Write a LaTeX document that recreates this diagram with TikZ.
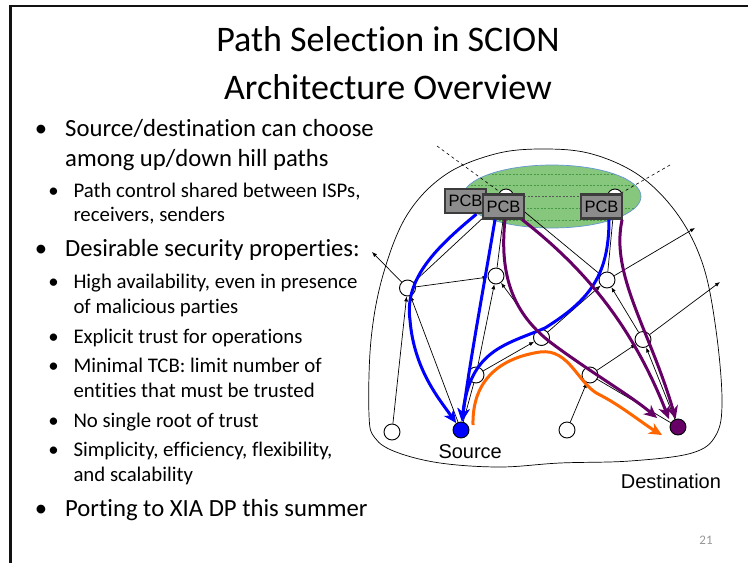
\documentclass[tikz,border=0pt]{standalone}
\usepackage{fontspec}
\setmainfont{Carlito}[Ligatures={NoCommon,NoContextual}]
\newfontfamily\arialf{Liberation Sans}
\usetikzlibrary{arrows.meta}
\definecolor{pblue}{RGB}{0,0,255}
\definecolor{ppurple}{RGB}{102,0,102}
\definecolor{porange}{RGB}{255,102,0}
\definecolor{egreen}{RGB}{135,198,125}
\definecolor{dgreen}{RGB}{70,155,70}
\definecolor{pcbfill}{RGB}{140,140,140}
\definecolor{pcbdraw}{RGB}{60,60,60}
\definecolor{eblue}{RGB}{100,150,210}
\definecolor{pgnum}{RGB}{150,150,150}
\begin{document}
\begin{tikzpicture}[x=1pt,y=-1pt,
  titlef/.style={anchor=base, inner sep=0pt, font=\fontsize{36}{40}\selectfont},
  lone/.style={anchor=base west, inner sep=0pt, font=\fontsize{24.7}{29}\selectfont},
  ltwo/.style={anchor=base west, inner sep=0pt, font=\fontsize{20.8}{25}\selectfont},
  bone/.style={anchor=base, inner sep=0pt, font=\fontsize{24.7}{29}\selectfont},
  btwo/.style={anchor=base, inner sep=0pt, font=\fontsize{20.8}{25}\selectfont},
  rt/.style={circle, draw, line width=0.9pt, fill=white, minimum size=16pt, inner sep=0pt},
  pcb/.style={rectangle, draw=pcbdraw, fill=pcbfill, line width=2.2pt, minimum width=41pt, minimum height=24pt, inner sep=0pt, font=\arialf\fontsize{16.5}{16.5}\selectfont},
  thinl/.style={line width=0.7pt},
  tarr/.style={line width=0.7pt, -{Latex[length=5pt,width=4pt]}},
  cpath/.style={line width=3pt, -{Stealth[length=13pt,width=12pt,inset=4pt]}},
  lbl/.style={anchor=base west, inner sep=0pt, font=\arialf\fontsize{20}{22}\selectfont},
]
\useasboundingbox (0,0) rectangle (748,563);
% frame
\draw[line width=2.3pt, black!93] (10.5,563) -- (10.5,6.2) -- (748,6.2);

% title
\node[titlef] (title1) at (388,51) {Path Selection in SCION};
\node[titlef] (title2) at (388,99) {Architecture Overview};

% bullets
\node[bone] (b1) at (41,136.4) {•};
\node[lone] (t1) at (65,136.4) {Source/destination can choose};
\node[lone] (t2) at (65,166) {among up/down hill paths};
\node[btwo] (b2) at (53.5,197.5) {•};
\node[ltwo] (t3) at (73.3,197.5) {Path control shared between ISPs,};
\node[ltwo] (t4) at (73.3,221) {receivers, senders};
\node[bone] (b3) at (41,256.7) {•};
\node[lone] (t5) at (65,256.7) {Desirable security properties:};
\node[btwo] (b4) at (53.5,288) {•};
\node[ltwo] (t6) at (73.3,288) {High availability, even in presence};
\node[ltwo] (t7) at (73.3,313) {of malicious parties};
\node[btwo] (b5) at (53.5,343) {•};
\node[ltwo] (t8) at (73.3,343) {Explicit trust for operations};
\node[btwo] (b6) at (53.5,372) {•};
\node[ltwo] (t9) at (73.3,372) {Minimal TCB: limit number of};
\node[ltwo] (t10) at (73.3,397) {entities that must be trusted};
\node[btwo] (b7) at (53.5,427) {•};
\node[ltwo] (t11) at (73.3,427) {No single root of trust};
\node[btwo] (b8) at (53.5,456.7) {•};
\node[ltwo] (t12) at (73.3,456.7) {Simplicity, efficiency, flexibility,};
\node[ltwo] (t13) at (73.3,481) {and scalability};
\node[bone] (b9) at (41,516) {•};
\node[lone] (t14) at (65,516) {Porting to XIA DP this summer};

\node[anchor=center, inner sep=0pt, text=pgnum, font=\fontsize{13}{13}\selectfont] (pg) at (706,540) {21};

% blob
\draw[line width=0.7pt] plot[smooth cycle, tension=0.6] coordinates {
 (369,415) (371,340) (383,275) (407,215) (445,175) (495,154) (543,149)
 (592,154) (640,176) (678,215) (703,265) (716,330) (722,400) (716,435)
 (692,453) (630,461) (560,463) (500,467) (440,463) (396,452) (375,438)};

% green ellipse
\fill[egreen] (552,196.5) ellipse [x radius=89pt, y radius=31.5pt];
\begin{scope}
\clip (552,196.5) ellipse [x radius=89pt, y radius=31.5pt];
\foreach \yy in {174,185.5,208.5,220}
  \draw[dgreen, line width=0.6pt, dash pattern=on 2pt off 1.5pt] (460,\yy) -- (645,\yy);
\end{scope}
\draw[eblue, line width=0.7pt] (552,196.5) ellipse [x radius=89pt, y radius=31.5pt];

% router nodes
\node[rt, minimum size=15pt] (tl) at (506,196.5) {};
\node[rt, minimum size=15pt] (tr) at (615,196.5) {};
\node[rt] (A) at (407.5,288) {};
\node[rt] (B) at (496,276) {};
\node[rt] (C) at (607,280) {};
\node[rt] (D) at (541.5,337.5) {};
\node[rt] (E) at (643,339.5) {};
\node[rt] (F) at (476,375) {};
\node[rt] (G) at (590,375) {};
\node[rt] (H) at (392,432) {};
\node[rt, fill=pblue] (S) at (461,430) {};
\node[rt] (I) at (567,430) {};
\node[rt, fill=ppurple] (T) at (678,427) {};

\coordinate (aout) at (372,252);
\coordinate (cout) at (695,228);
\coordinate (eout) at (720,282);
\coordinate (dl) at (437,146);
\coordinate (dr) at (670,165);

% thin links
\draw[tarr] (A) -- (aout);
\draw[tarr] (A) -- (B);
\draw[thinl] (A) -- (tl);
\draw[thinl] (B) -- (tl);
\draw[thinl] (tl) -- (C);
\draw[thinl] (C) -- (tr);
\draw[tarr] (C) -- (cout);
\draw[tarr] (E) -- (eout);
\draw[tarr] (H) -- (A);
\draw[tarr] (S) -- (A);
\draw[thinl] (S) -- (F);
\draw[tarr] (F) -- (B);
\draw[tarr] (D) -- (B);
\draw[tarr] (F) -- (D);
\draw[tarr] (D) -- (C);
\draw[tarr] (E) -- (C);
\draw[tarr] (I) -- (G);
\draw[tarr] (G) -- (E);
\draw[tarr] (T) -- (E);
\draw[thinl] (G) -- (T);

% dashed links
\draw[line width=0.6pt, dashed] (dl) -- (tl);
\draw[line width=0.6pt, dashed] (dr) -- (tr);
\draw[line width=1pt, black!65, dash pattern=on 2pt off 1.5pt] (tl) -- (tr);

% PCB boxes
\node[pcb] (pcb1) at (465.5,201) {PCB};
\node[pcb] (pcb2) at (503.5,206.5) {PCB};
\node[pcb] (pcb3) at (601.5,206.5) {PCB};

\coordinate (p1end) at (657,418);
\coordinate (p2end) at (669,419);
\coordinate (ostart) at (473,425);
\coordinate (oend) at (662,435);

% coloured paths
\draw[cpath, pblue] ([xshift=11pt]pcb1.south) .. controls (438,246) and (404,278) .. (410,320)
   .. controls (414,370) and (440,400) .. (S);
\draw[cpath, pblue] ([xshift=-8.5pt]pcb2.south) .. controls (485,280) and (470,360) .. (S);
\draw[cpath, pblue] ([xshift=7.5pt]pcb3.south) .. controls (609,275) and (590,300) .. (545,328)
   .. controls (505,345) and (470,350) .. (S);
\draw[cpath, ppurple] ([xshift=1.5pt]pcb2.south) .. controls (498,285) and (520,318) .. (550,342)
   .. controls (590,372) and (630,395) .. (p1end);
\draw[cpath, ppurple] ([xshift=-3pt]pcb2.south east) .. controls (580,265) and (630,320) .. (p2end);
\draw[cpath, ppurple] ([xshift=-1pt]pcb3.south east) .. controls (610,275) and (650,330) .. (T);
\draw[cpath, porange] (ostart) .. controls (472,380) and (500,358) .. (540,352)
   .. controls (570,348) and (578,385) .. (600,395)
   .. controls (620,405) and (645,425) .. (oend);

% labels
\node[lbl] (srcl) at (438.3,458.3) {Source};
\node[lbl] (dstl) at (620.7,488.3) {Destination};
\end{tikzpicture}
\end{document}
